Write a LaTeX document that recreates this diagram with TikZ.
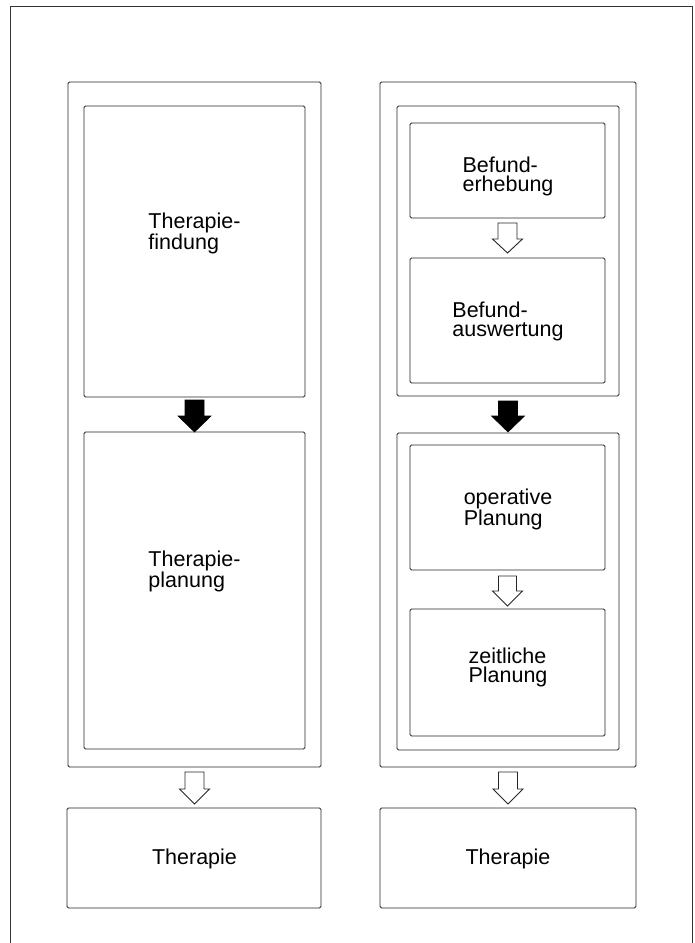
\documentclass[tikz,border=0pt]{standalone}
\usepackage{fontspec}
\setmainfont{Liberation Sans}
\usetikzlibrary{calc}
\tikzset{
  box/.style={draw=black!85, line width=0.8pt, rounded corners=1.5pt, inner sep=0pt, outer sep=0pt},
  frame/.style={draw=black!80, line width=0.9pt},
  lbl/.style={align=left, font=\fontsize{21.5}{19}\selectfont, inner sep=0pt, text=black},
  blackarr/.style={fill=black, draw=black, line width=0.6pt, line join=miter},
  hollowarr/.style={fill=white, draw=black!85, line width=0.9pt, line join=miter},
}
% name, x1, y1, x2, y2
\newcommand\mkbox[5]{\node[box, minimum width={(#4-#2)*1pt}, minimum height={(#5-#3)*1pt}] (#1) at ({(#2+#4)/2},{(#3+#5)/2}) {};}
% style, from, to, topgap, tipgap, halfshaft, halfhead, headlen
\newcommand\blkarrow[8]{%
  \path[#1] let \p1=(#2.south), \p2=(#3.north) in
    (\x1-#6pt,\y1-#4pt) -- (\x1+#6pt,\y1-#4pt) -- (\x1+#6pt,\y2+#5pt+#8pt)
    -- (\x1+#7pt,\y2+#5pt+#8pt) -- (\x1,\y2+#5pt) -- (\x1-#7pt,\y2+#5pt+#8pt)
    -- (\x1-#6pt,\y2+#5pt+#8pt) -- cycle;}
\begin{document}
\begin{tikzpicture}[x=1pt,y=-1pt]
\useasboundingbox (0,0) rectangle (695,943);
\fill[white] (0,0) rectangle (695,943);
\draw[frame] (10,943) -- (10,6) -- (692,6) -- (692,943);
% left column
\mkbox{L}{68}{82}{321}{767}
\mkbox{L1}{84}{106}{305}{397}
\mkbox{L2}{84}{432}{305}{749}
\mkbox{LT}{67}{808}{321}{908}
% right column
\mkbox{R}{380}{82}{636}{767}
\mkbox{RM1}{397}{106}{619}{396}
\mkbox{R1}{410}{123}{605}{218}
\mkbox{R2}{410}{258}{605}{383}
\mkbox{RM2}{397}{433}{619}{750}
\mkbox{R3}{410}{445}{605}{570}
\mkbox{R4}{410}{609}{605}{736}
\mkbox{RT}{380}{808}{636}{908}
% texts
\node[lbl] (tL1) at (194.5,233) {Therapie-\\findung};
\node[lbl] (tL2) at (194.5,571) {Therapie-\\planung};
\node[lbl] (tLT) at (194.5,859) {Therapie};
\node[lbl] (tR1) at (508,176) {Befund-\\erhebung};
\node[lbl] (tR2) at (508,321) {Befund-\\auswertung};
\node[lbl] (tR3) at (508,509) {operative\\Planung};
\node[lbl] (tR4) at (508,667) {zeitliche\\Planung};
\node[lbl] (tRT) at (508,859) {Therapie};
% arrows
\blkarrow{blackarr}{L1}{L2}{3}{0}{9.5}{16.5}{16}
\blkarrow{blackarr}{RM1}{RM2}{5}{1}{9.5}{16.5}{16}
\blkarrow{hollowarr}{L}{LT}{5}{4}{9.5}{15}{15}
\blkarrow{hollowarr}{R}{RT}{5}{4}{9.5}{15}{15}
\blkarrow{hollowarr}{R1}{R2}{5}{5}{9.5}{15}{14}
\blkarrow{hollowarr}{R3}{R4}{6}{3}{9}{15}{15}
\end{tikzpicture}
\end{document}
